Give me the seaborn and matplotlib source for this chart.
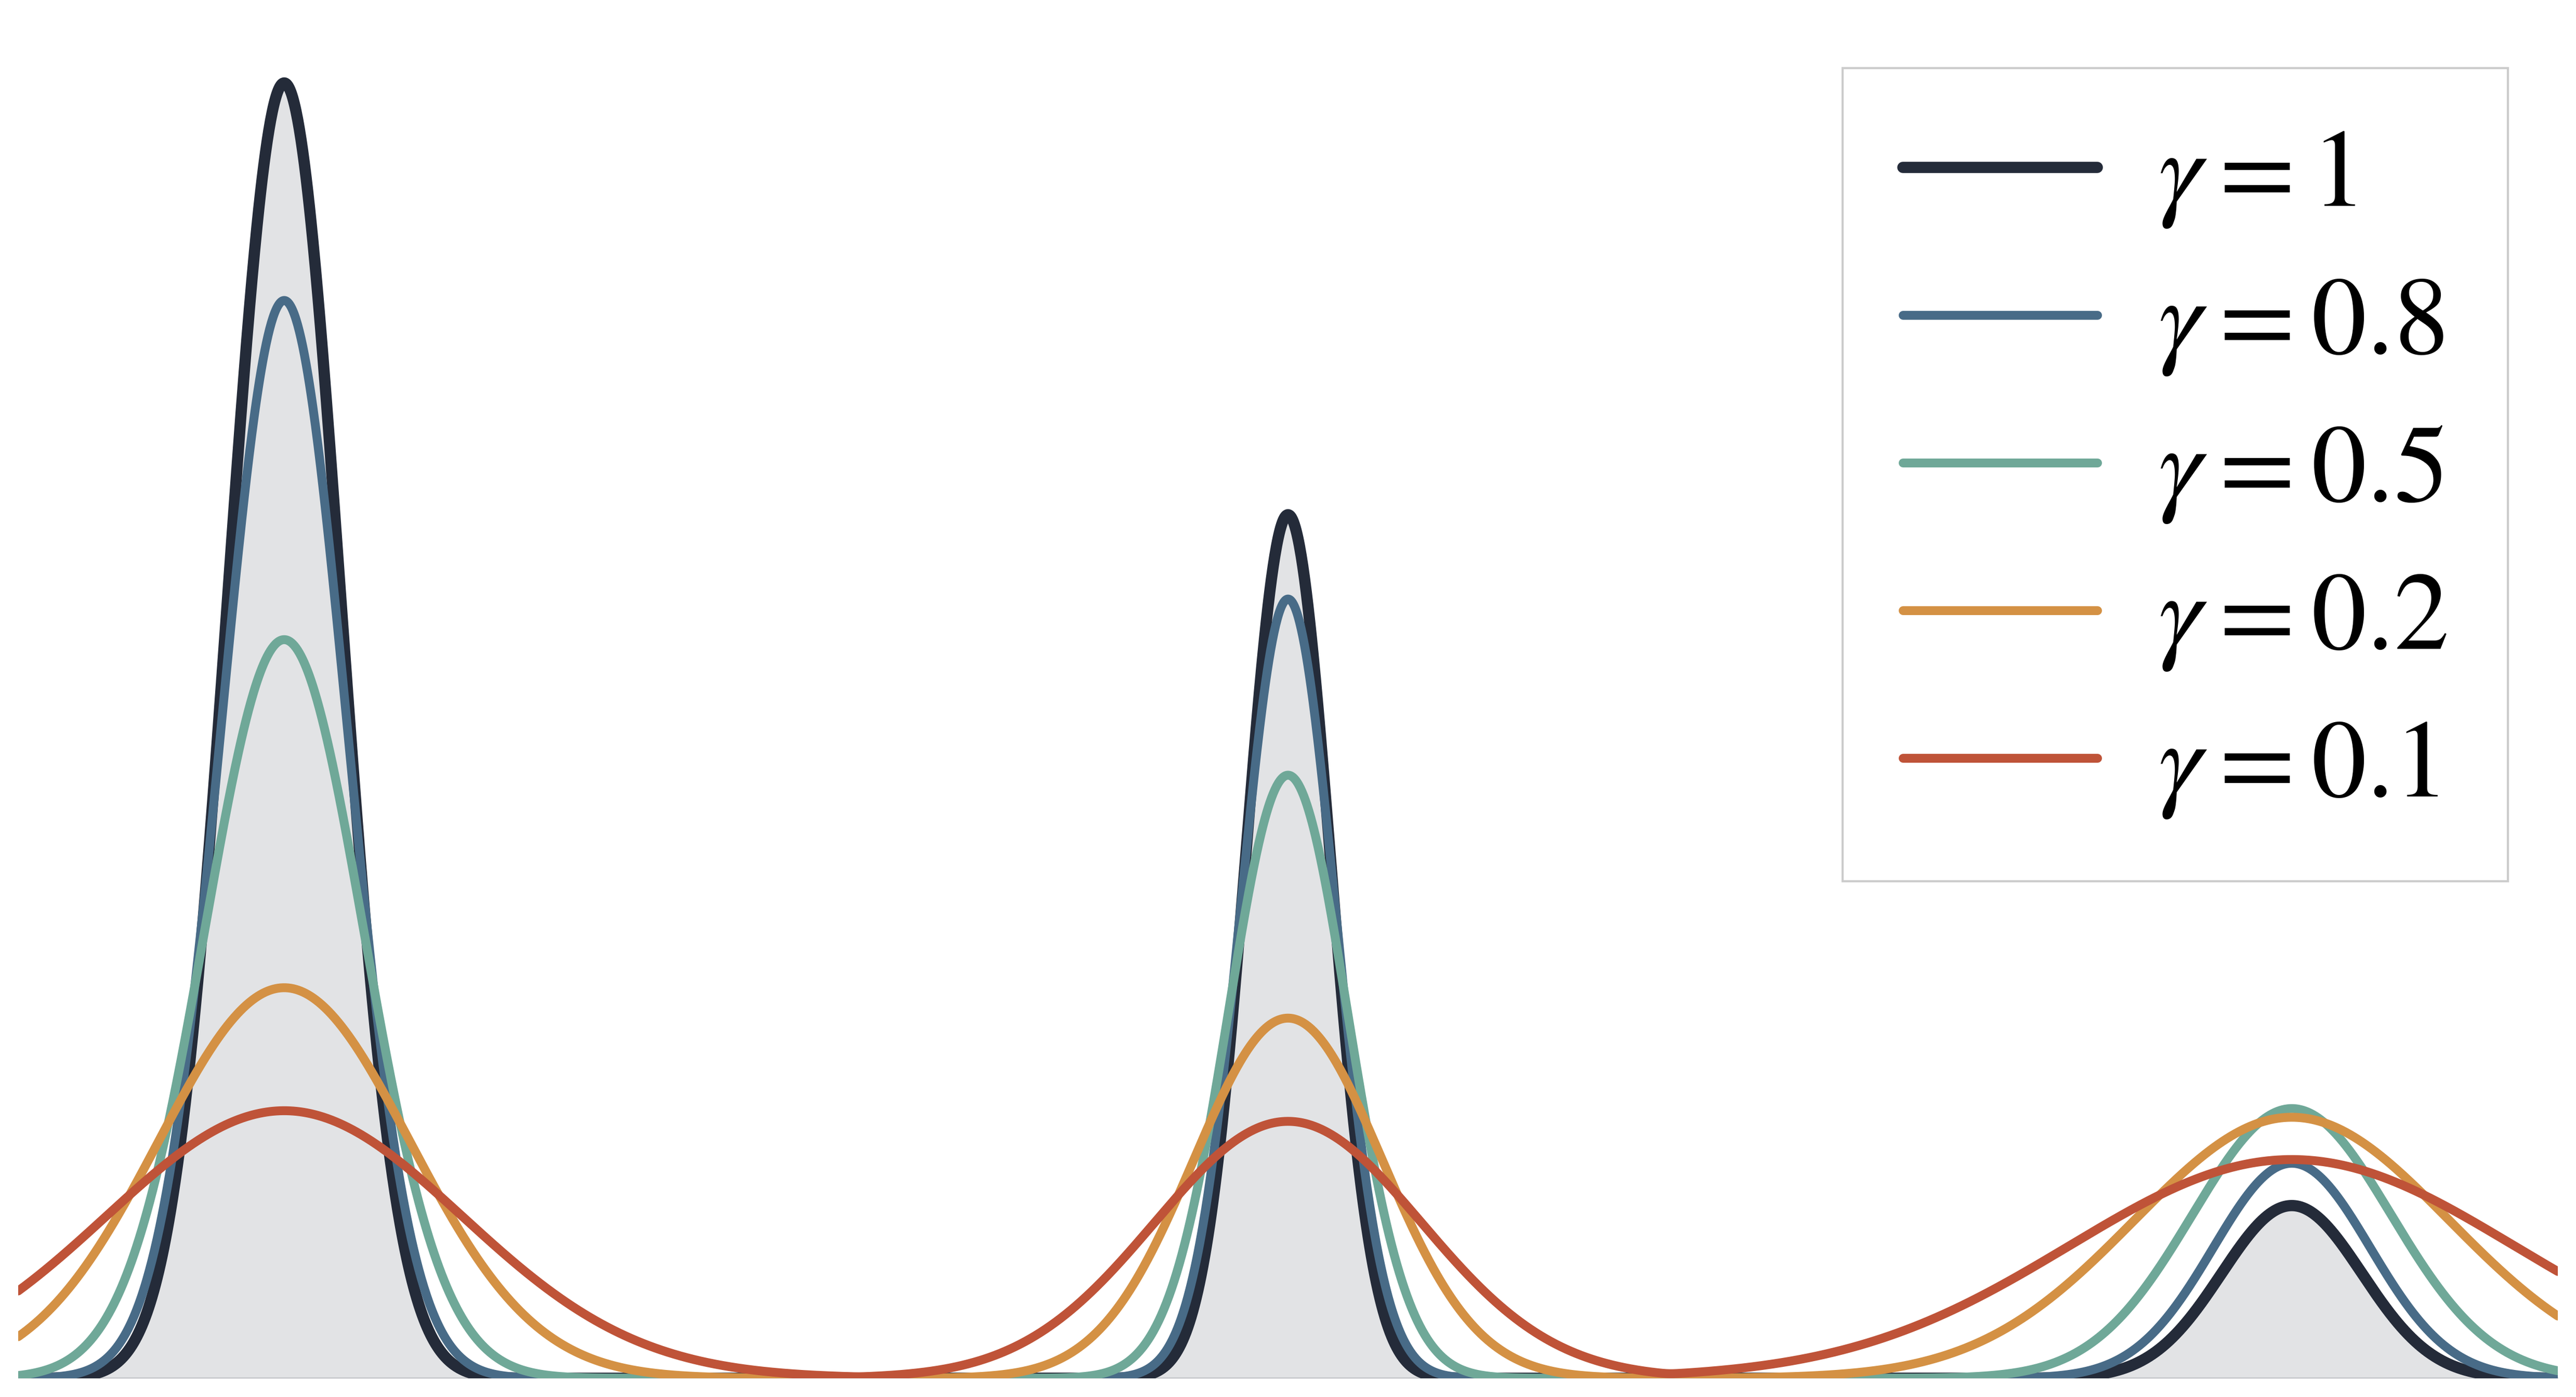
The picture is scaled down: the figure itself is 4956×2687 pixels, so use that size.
import matplotlib
matplotlib.use("Agg")
import matplotlib.pyplot as plt
import seaborn as sns
import numpy as np
import pandas as pd

# three-component gaussian mixture, tempered as p(x)^gamma / Z
means = [-2.0, 0.0, 2.0]
stds = [0.112, 0.084, 0.14]
weights = [0.6, 0.3, 0.1]
gammas = [1.0, 0.8, 0.5, 0.2, 0.1]
labels = [r"$\gamma=1$", r"$\gamma=0.8$", r"$\gamma=0.5$", r"$\gamma=0.2$", r"$\gamma=0.1$"]
colors = ["#242b39", "#486b87", "#6fa898", "#d49144", "#bf5338"]
widths = [5.2, 4.1, 4.1, 4.1, 4.1]
x_range = (-2.53, 2.53)


def mixture(xs):
    p = np.zeros_like(xs)
    for m, s, w in zip(means, stds, weights):
        p += w * np.exp(-0.5 * ((xs - m) / s) ** 2) / (np.sqrt(2 * np.pi) * s)
    return p


xs = np.linspace(x_range[0], x_range[1], 3000)
base = mixture(xs)
frames = []
for g, lab in zip(gammas, labels):
    q = base ** g
    q = q / np.trapezoid(q, xs)
    frames.append(pd.DataFrame({"x": xs, "density": q, "label": lab}))
df = pd.concat(frames, ignore_index=True)

sns.set_style("white")
plt.rcParams["font.family"] = ["Liberation Serif", "DejaVu Serif"]
plt.rcParams["mathtext.fontset"] = "stix"

fig = plt.figure(figsize=(4956 / 300, 2687 / 300), dpi=300)
ax = fig.add_axes([35 / 4956, 36 / 2687, 4886 / 4956, 2616 / 2687])

first = df[df["label"] == labels[0]]
ax.fill_between(first["x"], first["density"], color=colors[0], alpha=0.13, linewidth=1.2)

for lab, c, lw in zip(labels, colors, widths):
    sns.lineplot(data=df[df["label"] == lab], x="x", y="density", color=c,
                 linewidth=lw, label=lab, estimator=None, ax=ax)

ax.set_xlim(*x_range)
ax.set_ylim(0, df["density"].max() * 1.05)
ax.set_xticks([])
ax.set_yticks([])
ax.set_xlabel("")
ax.set_ylabel("")
sns.despine(ax=ax, left=True, bottom=True)

ax.legend(loc="upper right", fontsize=51, frameon=True, fancybox=False,
          edgecolor="#cccccc", framealpha=1, labelcolor="black",
          borderpad=0.55, labelspacing=0.42, handlelength=1.76,
          handletextpad=0.55, borderaxespad=0.45)

fig.savefig("out.png", dpi=300)
